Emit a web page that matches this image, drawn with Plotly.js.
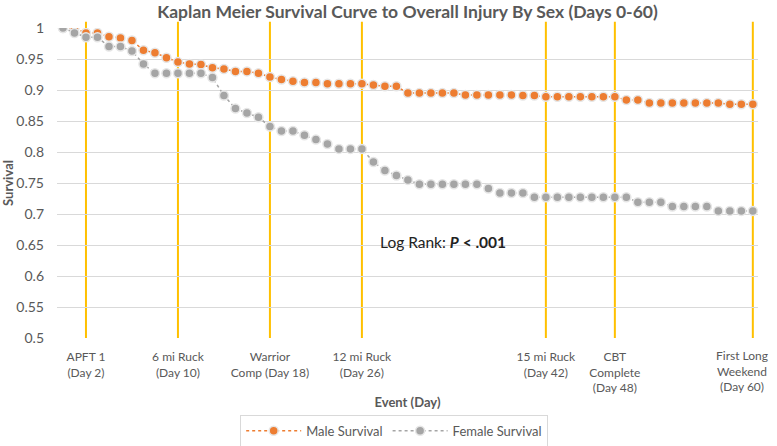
<!DOCTYPE html>
<html>
<head>
<meta charset="utf-8">
<script src="https://cdn.plot.ly/plotly-3.0.1.min.js"></script>
<style>html,body{margin:0;padding:0;background:#fff;}#chart{width:777px;height:446px;}</style>
</head>
<body>
<div id="chart"></div>
<script>
// Days 0-60
const days = Array.from({length: 61}, (_, i) => i);

const maleSurvival = [
  1.000, 1.000, 0.992, 0.992, 0.986, 0.984, 0.980, 0.964, 0.960, 0.952,
  0.945, 0.942, 0.941, 0.936, 0.934, 0.930, 0.930, 0.927, 0.921, 0.917,
  0.914, 0.912, 0.912, 0.910, 0.910, 0.910, 0.910, 0.908, 0.906, 0.906,
  0.895, 0.895, 0.895, 0.895, 0.895, 0.892, 0.892, 0.892, 0.892, 0.892,
  0.891, 0.891, 0.889, 0.889, 0.889, 0.889, 0.889, 0.889, 0.889, 0.884,
  0.884, 0.879, 0.879, 0.879, 0.879, 0.879, 0.879, 0.879, 0.877, 0.877,
  0.877
];

const femaleSurvival = [
  1.000, 0.992, 0.985, 0.985, 0.970, 0.970, 0.963, 0.942, 0.927, 0.927,
  0.927, 0.927, 0.927, 0.920, 0.891, 0.870, 0.863, 0.856, 0.841, 0.834,
  0.834, 0.827, 0.820, 0.813, 0.805, 0.805, 0.805, 0.784, 0.770, 0.762,
  0.755, 0.748, 0.748, 0.748, 0.748, 0.748, 0.748, 0.741, 0.734, 0.734,
  0.734, 0.727, 0.727, 0.727, 0.727, 0.727, 0.727, 0.727, 0.727, 0.727,
  0.719, 0.719, 0.719, 0.712, 0.712, 0.712, 0.712, 0.705, 0.705, 0.705,
  0.705
];

const eventDays = [2, 10, 18, 26, 42, 48, 60];
const eventLabels = [
  'APFT 1<br>(Day 2)',
  '6 mi Ruck<br>(Day 10)',
  'Warrior<br>Comp (Day 18)',
  '12 mi Ruck<br>(Day 26)',
  '15 mi Ruck<br>(Day 42)',
  'CBT<br>Complete<br>(Day 48)',
  'First Long<br>Weekend<br>(Day 60)'
];

const FONT = 'Lato, "Open Sans", sans-serif';
const GREY = '#595959';

const traces = [
  {
    x: days, y: maleSurvival, name: 'Male Survival', type: 'scatter', mode: 'lines+markers',
    line: {color: '#ED7D31', width: 1.5, dash: 'dot'},
    marker: {color: '#ED7D31', size: 9, line: {color: '#E6E6E6', width: 1.5}}
  },
  {
    x: days, y: femaleSurvival, name: 'Female Survival', type: 'scatter', mode: 'lines+markers',
    line: {color: '#A5A5A5', width: 1.5, dash: 'dot'},
    marker: {color: '#A5A5A5', size: 9, line: {color: '#E6E6E6', width: 1.5}}
  }
];

const shapes = eventDays.map(d => ({
  type: 'line', xref: 'x', yref: 'paper', x0: d, x1: d, y0: 0, y1: 1.02,
  line: {color: '#FFC000', width: 2}, layer: 'between'
}));

// the last event label sits against the right edge, so it is drawn as a left-shifted text label
const lastIdx = eventLabels.length - 1;
const tickTexts = eventLabels.map((t, i) => i === lastIdx ? '' : t);

const layout = {
  width: 777, height: 446,
  margin: {l: 57, r: 19, t: 28, b: 108},
  paper_bgcolor: '#ffffff', plot_bgcolor: '#ffffff',
  font: {family: FONT, color: GREY, size: 12},
  title: {
    text: '<b>Kaplan Meier Survival Curve to Overall Injury By Sex (Days 0-60)</b>',
    font: {family: FONT, size: 17.5, color: GREY},
    x: 0.5, xref: 'paper', xanchor: 'center', y: 0.973, yref: 'container', yanchor: 'middle'
  },
  xaxis: {
    range: [-0.52, 60.45], automargin: false,
    tickmode: 'array', tickvals: eventDays, ticktext: tickTexts,
    showgrid: false, zeroline: false, showline: false,
    ticks: '', ticklabelstandoff: 10,
    tickfont: {family: FONT, size: 12, color: GREY},
    title: {text: '<b>Event (Day)</b>', font: {family: FONT, size: 13, color: GREY}, standoff: 3}
  },
  yaxis: {
    range: [0.5, 1.0], dtick: 0.05, tick0: 0.5, automargin: false,
    showgrid: true, gridcolor: '#D9D9D9', gridwidth: 1,
    zeroline: false, showline: false, ticks: '', ticklabelstandoff: 12,
    tickfont: {family: FONT, size: 14, color: GREY},
    title: {text: '<b>Survival</b>', font: {family: FONT, size: 13, color: GREY}, standoff: 6}
  },
  shapes: shapes,
  annotations: [
    {
      xref: 'x', yref: 'y', x: 27.4, y: 0.655, xanchor: 'left', yanchor: 'middle',
      text: 'Log Rank: <b><i>P</i> < .001</b>', showarrow: false,
      font: {family: FONT, size: 15.5, color: '#222222'}
    },
    {
      xref: 'x', yref: 'paper', x: eventDays[lastIdx], y: 0, yshift: -8, xshift: -11,
      xanchor: 'center', yanchor: 'top', align: 'center',
      text: eventLabels[lastIdx], showarrow: false,
      font: {family: FONT, size: 12, color: GREY}
    }
  ],
  showlegend: true,
  legend: {
    orientation: 'h', xref: 'paper', yref: 'container', x: 0.481, xanchor: 'center', y: 0.07, yanchor: 'top',
    bordercolor: '#D9D9D9', borderwidth: 1, bgcolor: '#ffffff', itemwidth: 55,
    font: {family: FONT, size: 13, color: GREY}
  }
};

Plotly.newPlot('chart', traces, layout, {displayModeBar: false, staticPlot: true});
</script>
</body>
</html>
